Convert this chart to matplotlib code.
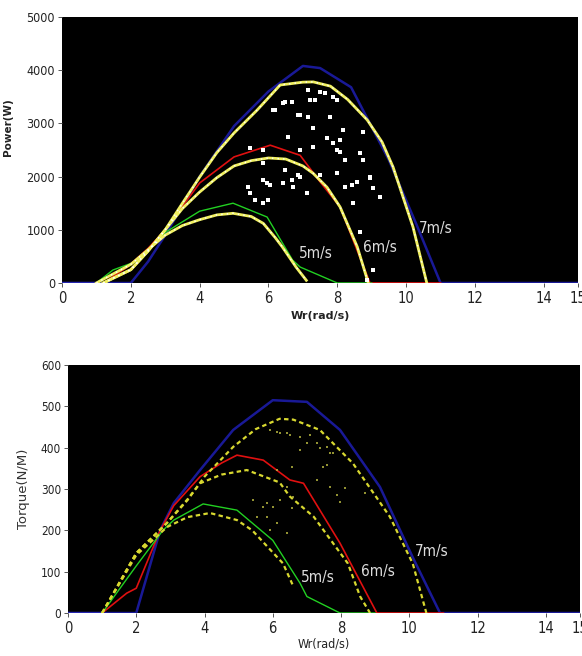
import matplotlib
matplotlib.use("Agg")
import matplotlib.pyplot as plt

# ---------------- data ----------------
# Power (W) vs Wr (rad/s)
p_blue7_x = [0, 2.0, 2.5, 3.0, 4.0, 5.0, 6.0, 7.0, 7.5, 8.4, 9.5, 10.3, 11.0, 15]
p_blue7_y = [0, 0, 400, 900, 2000, 2950, 3600, 4080, 4040, 3680, 2310, 1100, 0, 0]
p_yel7_x = [1.2, 2.0, 2.5, 3.0, 3.5, 4.0, 4.5, 5.0, 5.67, 6.34, 7.0, 7.3, 7.8, 8.3, 8.87, 9.3, 9.62, 10.2, 10.6]
p_yel7_y = [0, 250, 600, 1000, 1500, 1990, 2450, 2820, 3250, 3722, 3775, 3780, 3700, 3450, 3064, 2650, 2180, 1050, 0]
p_red6_x = [1.2, 1.9, 2.5, 3.0, 4.0, 5.0, 6.05, 6.92, 7.5, 8.08, 8.95, 11.0]
p_red6_y = [0, 300, 650, 1000, 1880, 2370, 2590, 2400, 1900, 1430, 0, 0]
p_yel6_x = [1.2, 2.0, 2.5, 3.0, 3.5, 4.0, 4.5, 5.0, 5.5, 6.0, 6.5, 7.0, 7.3, 7.7, 8.08, 8.58, 8.9]
p_yel6_y = [0, 250, 600, 1000, 1400, 1710, 1980, 2200, 2300, 2350, 2330, 2200, 2060, 1800, 1430, 680, 0]
p_grn5_x = [1.0, 1.48, 2.27, 3.0, 4.0, 4.97, 5.96, 6.7, 6.92, 8.0, 9.0]
p_grn5_y = [0, 244, 432, 950, 1350, 1500, 1240, 430, 300, 0, 0]
p_yel5_x = [1.0, 2.0, 3.0, 3.5, 4.0, 4.5, 4.97, 5.5, 5.85, 6.2, 6.4, 6.8, 7.1]
p_yel5_y = [0, 350, 900, 1080, 1190, 1280, 1310, 1250, 1120, 850, 680, 300, 50]
p_dots_x = [6.48, 6.69, 6.42, 6.13, 6.86, 6.92, 7.15, 7.21, 7.35, 7.15, 7.50, 7.65, 7.79, 7.99,
            7.30, 7.70, 8.08, 6.57, 6.92, 7.99, 7.30, 5.84, 5.47, 6.48, 6.86, 7.50, 5.84, 6.19,
            5.41, 5.47, 5.61, 5.84, 5.96, 6.05, 6.42, 6.69, 6.72, 6.92, 7.12, 5.84, 5.99,
            7.88, 8.17, 8.75, 7.88, 8.08, 8.66, 8.75, 8.23, 7.99, 8.95,
            8.23, 8.43, 8.58, 8.46, 9.04, 9.24, 8.95, 8.66, 9.04, 8.87]
p_dots_y = [3403, 3403, 3384, 3252, 3158, 3158, 3121, 3440, 3440, 3628, 3591, 3572, 3121, 3440,
            2914, 2726, 2688, 2745, 2500, 2500, 2557, 2500, 2538, 2124, 2030, 2030, 2256, 3252,
            1805, 1692, 1560, 1504, 1880, 1842, 1880, 1936, 1805, 1993, 1692, 1936, 1560,
            3497, 2876, 2839, 2632, 2463, 2444, 2312, 2312, 2068, 1993,
            1805, 1842, 1899, 1504, 1786, 1617, 1974, 959, 244, 56]

# Torque (N/M) vs Wr (rad/s)
t_blue7_x = [0, 2.0, 2.7, 3.1, 3.87, 4.84, 6.0, 7.0, 7.97, 9.14, 10.1, 10.9, 15]
t_blue7_y = [0, 0, 200, 266, 346, 443, 515, 511, 443, 305, 135, 0, 0]
t_yel7_x = [1.0, 2.0, 2.9, 3.5, 4.0, 4.84, 5.5, 6.2, 6.6, 7.38, 8.35, 9.43, 10.1, 10.5]
t_yel7_y = [0, 145, 218, 273, 330, 402, 445, 470, 468, 443, 362, 233, 120, 0]
t_red6_x = [1.0, 1.72, 2.0, 2.7, 3.1, 3.87, 4.5, 4.95, 5.72, 6.5, 6.9, 7.97, 9.05, 11.0]
t_red6_y = [0, 48, 60, 200, 260, 330, 363, 382, 370, 322, 314, 169, 0, 0]
t_yel6_x = [1.0, 2.0, 2.9, 3.5, 3.87, 4.5, 5.24, 6.2, 6.5, 7.2, 8.2, 8.56, 8.85]
t_yel6_y = [0, 145, 218, 275, 314, 335, 346, 316, 282, 233, 120, 40, 0]
t_grn5_x = [1.0, 2.0, 2.78, 3.1, 3.96, 4.95, 6.0, 6.8, 7.0, 7.97, 9.0]
t_grn5_y = [0, 114, 200, 225, 264, 249, 176, 72, 40, 0, 0]
t_yel5_x = [1.0, 2.0, 2.9, 3.5, 4.16, 4.95, 5.4, 6.3, 6.6]
t_yel5_y = [0, 140, 208, 232, 242, 225, 200, 120, 65]
t_dots_x = [5.92, 6.12, 6.21, 6.42, 6.50, 6.80, 7.09, 7.00, 7.30, 7.38, 6.80, 7.68, 7.59, 7.30,
            7.68, 6.56, 6.12, 6.42, 5.42, 5.83, 6.21, 6.59, 6.01, 6.56, 5.71, 5.83, 6.12, 5.92,
            6.42, 5.54, 7.59, 7.77, 7.47, 8.12, 7.88, 8.70, 7.97]
t_dots_y = [443, 438, 436, 436, 431, 426, 431, 411, 411, 399, 394, 387, 358, 322,
            305, 353, 346, 305, 273, 266, 273, 281, 257, 254, 257, 232, 218, 201,
            194, 232, 402, 387, 353, 303, 286, 290, 269]

x_ticks = [0, 2, 4, 6, 8, 10, 12, 14, 15]
p_ticks = [0, 1000, 2000, 3000, 4000, 5000]
t_ticks = [0, 100, 200, 300, 400, 500, 600]
speed_labels = ["5m/s", "6m/s", "7m/s"]
p_label_x = [7.38, 9.25, 10.87]
p_label_y = [560, 675, 1030]
t_label_x = [7.33, 9.08, 10.67]
t_label_y = [85, 100, 150]

# ---------------- style ----------------
FAM = ["DejaVu Sans"]
STRETCH = "condensed"

BLUE = "#1c1ca8"
RED = "#e01010"
GREEN = "#22d022"
YEL = "#f0f060"

fig = plt.figure(figsize=(5.82, 6.56), dpi=100)
fig.patch.set_facecolor("white")

ax1 = fig.add_axes([0.1065, 0.5686, 0.887, 0.4055])
ax2 = fig.add_axes([0.1168, 0.0655, 0.8797, 0.378])


def style_axis(ax, yticks, ymax, ysize):
    ax.set_facecolor("black")
    ax.set_xlim(0, 15)
    ax.set_ylim(0, ymax)
    ax.set_xticks(x_ticks)
    ax.set_yticks(yticks)
    for s in ax.spines.values():
        s.set_visible(False)
    ax.tick_params(axis="both", direction="out", length=3, width=0.7,
                   colors="#555555", labelcolor="#222222", pad=2)
    ax.tick_params(axis="x", labelsize=10.5, pad=3)
    ax.tick_params(axis="y", labelsize=ysize)
    for lab in ax.get_xticklabels() + ax.get_yticklabels():
        lab.set_family(FAM)
        lab.set_fontstretch(STRETCH)


# --- Power plot ---
style_axis(ax1, p_ticks, 5000, 9)
ax1.plot([0, 1.2], [0, 0], color="#8888ff", lw=1.5, zorder=2)
ax1.plot(p_blue7_x, p_blue7_y, color=BLUE, lw=1.8, alpha=0.9, zorder=2)
ax1.plot(p_red6_x, p_red6_y, color=RED, lw=1.2, zorder=3)
ax1.plot(p_grn5_x, p_grn5_y, color=GREEN, lw=1.0, zorder=3)
for xs, ys in [(p_yel7_x, p_yel7_y), (p_yel6_x, p_yel6_y), (p_yel5_x, p_yel5_y)]:
    ax1.plot(xs, ys, color=YEL, lw=2.0, zorder=4)
    ax1.plot(xs, ys, color="white", lw=1.0, ls=(0, (1, 3)), zorder=5)
ax1.scatter(p_dots_x, p_dots_y, s=5, color="white", marker="s", lw=0, zorder=6)
for lab, x, y in zip(speed_labels, p_label_x, p_label_y):
    ax1.text(x, y, lab, color="#dddddd", fontsize=11, family=FAM, fontstretch=STRETCH,
             ha="center", va="center", zorder=7)
ax1.set_xlabel("Wr(rad/s)", fontsize=8, fontweight="bold", color="#222222")
ax1.set_ylabel("Power(W)", fontsize=7.5, fontweight="bold", color="#222222")
ax1.xaxis.set_label_coords(0.5, -0.105)
ax1.yaxis.set_label_coords(-0.095, 0.586)

# --- Torque plot ---
style_axis(ax2, t_ticks, 600, 8.5)
ax2.plot([0, 1.0], [0, 0], color="#8888ff", lw=1.5, zorder=2)
ax2.plot(t_blue7_x, t_blue7_y, color=BLUE, lw=1.8, alpha=0.9, zorder=2)
ax2.plot(t_red6_x, t_red6_y, color=RED, lw=1.2, zorder=3)
ax2.plot(t_grn5_x, t_grn5_y, color=GREEN, lw=1.0, zorder=3)
for xs, ys in [(t_yel7_x, t_yel7_y), (t_yel6_x, t_yel6_y), (t_yel5_x, t_yel5_y)]:
    ax2.plot(xs, ys, color="#d8d830", lw=1.6, ls=(0, (2, 1.5)), zorder=4)
ax2.scatter(t_dots_x, t_dots_y, s=4, color="#b8b840", marker="s", lw=0, alpha=0.8, zorder=5)
for lab, x, y in zip(speed_labels, t_label_x, t_label_y):
    ax2.text(x, y, lab, color="#dddddd", fontsize=11, family=FAM, fontstretch=STRETCH,
             ha="center", va="center", zorder=7)
ax2.set_xlabel("Wr(rad/s)", fontsize=9, family=FAM, fontstretch=STRETCH, color="#222222")
ax2.set_ylabel("Torque(N/M)", fontsize=9.5, color="#333333")
ax2.xaxis.set_label_coords(0.5, -0.1)
ax2.yaxis.set_label_coords(-0.074, 0.5)

fig.savefig("out.png", dpi=100, facecolor="white")
